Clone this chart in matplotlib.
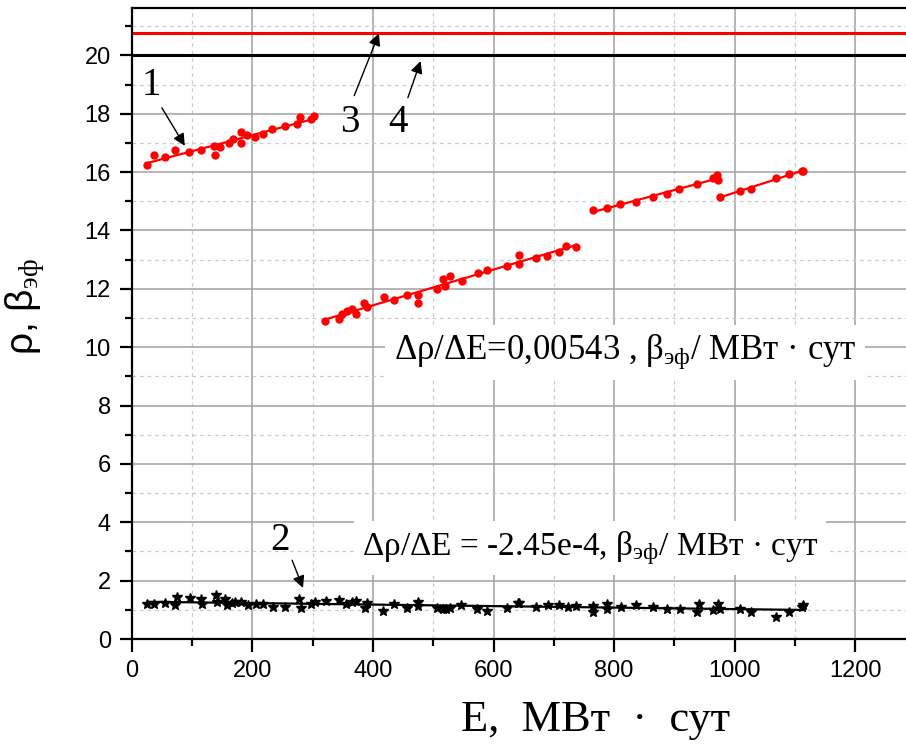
import numpy as np
import matplotlib.pyplot as plt
from matplotlib.ticker import MultipleLocator

plt.rcParams['mathtext.fontset'] = 'custom'
plt.rcParams['mathtext.rm'] = 'Liberation Serif'
plt.rcParams['mathtext.it'] = 'Liberation Serif:italic'

# curve 1 (red dots), four burn-up segments
e1a = [25, 37, 55, 71, 95, 115, 137, 138, 147, 161, 168, 181, 181, 191, 205, 218, 233, 254, 274, 279, 297, 303]
r1a = [16.23, 16.6, 16.5, 16.77, 16.68, 16.75, 16.88, 16.58, 16.85, 16.99, 17.12, 16.99, 17.36, 17.26, 17.19, 17.29, 17.47, 17.57, 17.64, 17.88, 17.81, 17.91]
e1b = [321, 343, 348, 357, 365, 372, 386, 390, 418, 435, 457, 474, 474, 506, 516, 520, 528, 547, 574, 589, 623, 642, 642, 670, 689, 709, 721, 737]
r1b = [10.88, 10.96, 11.15, 11.24, 11.32, 11.13, 11.52, 11.36, 11.72, 11.63, 11.78, 11.8, 11.52, 11.99, 12.32, 12.1, 12.45, 12.27, 12.54, 12.64, 12.78, 13.17, 12.84, 13.06, 13.12, 13.26, 13.46, 13.44]
e1c = [765, 788, 810, 837, 865, 887, 908, 937, 964, 971, 973]
r1c = [14.69, 14.77, 14.89, 14.98, 15.15, 15.26, 15.42, 15.58, 15.78, 15.89, 15.72]
e1d = [975, 1008, 1027, 1068, 1090, 1111, 1114]
r1d = [15.15, 15.34, 15.43, 15.78, 15.92, 16.04, 16.04]

# curve 2 (black stars)
e2 = [26, 37, 55, 71, 75, 97, 115, 116, 140, 142, 155, 158, 166, 171, 181, 193, 206, 218, 234, 254,
      278, 281, 298, 304, 322, 343, 356, 366, 372, 390, 387, 417, 435, 457, 474, 474, 506, 517, 521, 528,
      546, 573, 590, 622, 641, 643, 670, 690, 709, 723, 737, 765, 765, 788, 788, 811, 837, 865, 887, 909,
      937, 941, 964, 973, 976, 1008, 1027, 1068, 1090, 1111, 1114]
r2 = [1.19, 1.21, 1.22, 1.15, 1.43, 1.39, 1.36, 1.2, 1.51, 1.28, 1.36, 1.16, 1.22, 1.28, 1.26, 1.15, 1.19, 1.2, 1.11, 1.09,
      1.36, 1.05, 1.2, 1.26, 1.31, 1.34, 1.19, 1.28, 1.31, 1.24, 1.05, 0.97, 1.2, 1.05, 1.26, 1.14, 1.07, 1.03, 1.03, 1.07,
      1.16, 1.03, 0.97, 1.05, 1.22, 1.22, 1.11, 1.16, 1.16, 1.09, 1.14, 1.14, 0.94, 1.19, 1.03, 1.11, 1.16, 1.09, 1.03, 1.03,
      0.94, 1.2, 1.0, 1.2, 1.03, 1.02, 0.94, 0.76, 0.94, 1.09, 1.16]

rho_limit = 20.75   # line 3
beta_limit = 20.0   # line 4

fig = plt.figure(figsize=(9.06, 7.51), dpi=100)
ax = fig.add_axes([0.1454, 0.1491, 0.8652, 0.8402])

ax.xaxis.set_major_locator(MultipleLocator(200))
ax.xaxis.set_minor_locator(MultipleLocator(100))
ax.yaxis.set_major_locator(MultipleLocator(2))
ax.yaxis.set_minor_locator(MultipleLocator(1))
ax.grid(which='major', color='#a0a0a0', lw=1.1, ls='-')
ax.grid(which='minor', color='#cccccc', lw=0.9, ls=(0, (3, 3)))
ax.set_axisbelow(True)

for e, r in [(e1a, r1a), (e1b, r1b), (e1c, r1c), (e1d, r1d)]:
    e = np.array(e); r = np.array(r)
    k, b = np.polyfit(e, r, 1)
    ax.plot([e.min(), e.max()], [k * e.min() + b, k * e.max() + b], color='red', lw=1.6)
    ax.plot(e, r, 'o', color='red', ms=5)

e2 = np.array(e2); r2 = np.array(r2)
k2, b2 = np.polyfit(e2, r2, 1)
ax.plot([e2.min(), e2.max()], [k2 * e2.min() + b2, k2 * e2.max() + b2], color='black', lw=1.6)
ax.plot(e2, r2, '*', color='black', ms=7)

ax.axhline(rho_limit, color='red', lw=2.2)
ax.axhline(beta_limit, color='black', lw=2.2)

ax.set_xlim(0, 1300)
ax.set_ylim(0, 21.62)

for s in ['left', 'bottom', 'top', 'right']:
    ax.spines[s].set_linewidth(1.6)
ax.tick_params(which='major', direction='out', length=9, width=1.6, labelsize=17, pad=6)
ax.tick_params(which='minor', direction='out', length=5, width=1.6)
for lab in ax.get_xticklabels() + ax.get_yticklabels():
    lab.set_fontfamily('Liberation Sans')

ax.set_xlabel('E,  МВт  ·  сут', fontfamily='Liberation Serif', fontsize=32)
ax.xaxis.set_label_coords(0.592, -0.097)
ax.set_ylabel(r'ρ, β$_{\mathrm{эф}}$', fontfamily='Liberation Sans', fontsize=28)
ax.yaxis.set_label_coords(-0.108, 0.526)

serif = dict(fontfamily='Liberation Serif', fontsize=28, ha='center', va='center')
arr = dict(arrowstyle='-|>', color='black', lw=1.0, mutation_scale=18, shrinkA=0, shrinkB=0)
ax.text(33, 18.97, '1', **serif)
ax.annotate('', xy=(88, 16.9), xytext=(50, 18.2), arrowprops=arr)
ax.text(246, 3.39, '2', **serif)
ax.annotate('', xy=(284, 1.75), xytext=(266, 2.7), arrowprops=arr)
ax.text(362, 17.7, '3', **serif)
ax.annotate('', xy=(410, 20.75), xytext=(369, 18.62), arrowprops=arr)
ax.text(441, 17.7, '4', **serif)
ax.annotate('', xy=(479, 19.8), xytext=(458, 18.55), arrowprops=arr)

box = dict(facecolor='white', edgecolor='none', pad=6)
ax.text(818, 9.83, r'Δρ/ΔE=0,00543 , β$_{\mathrm{эф}}$/ МВт · сут', ha='center', va='center',
        fontfamily='Liberation Serif', fontsize=25, bbox=box)
ax.text(760, 3.12, r'Δρ/ΔE = -2.45e-4, β$_{\mathrm{эф}}$/ МВт · сут', ha='center', va='center',
        fontfamily='Liberation Serif', fontsize=24, bbox=box)

fig.savefig('out.png', dpi=100)
